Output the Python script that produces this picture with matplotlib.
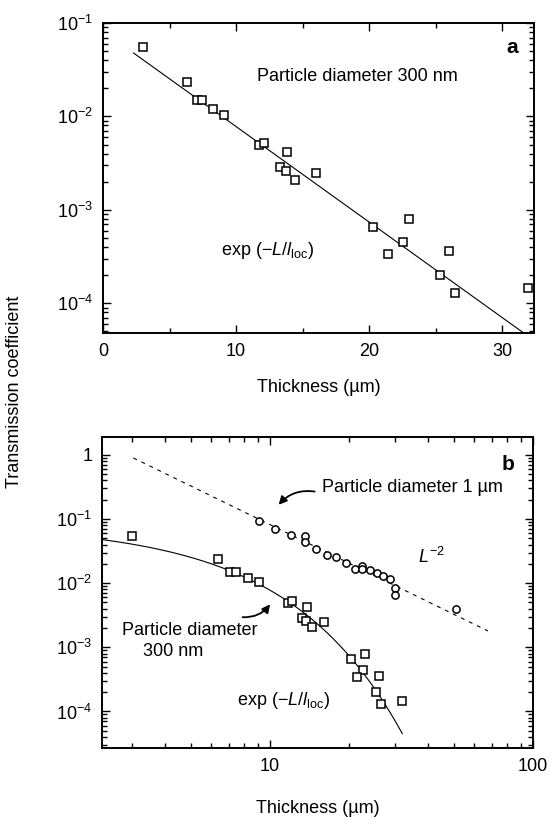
import matplotlib
matplotlib.use("Agg")
import matplotlib.pyplot as plt
import numpy as np
from matplotlib.ticker import FixedLocator, LogLocator, NullFormatter, FuncFormatter

plt.rcParams['font.family'] = ['Liberation Sans', 'DejaVu Sans']
plt.rcParams['mathtext.fontset'] = 'custom'
plt.rcParams['mathtext.rm'] = 'Liberation Sans'
plt.rcParams['mathtext.it'] = 'Liberation Sans:italic'
plt.rcParams['mathtext.bf'] = 'Liberation Sans:bold'

# particle diameter 300 nm (squares), thickness in um
thick_300 = [3.0, 6.35, 7.05, 7.45, 8.28, 9.07, 11.7, 12.1, 13.8, 13.3, 13.75,
             14.45, 16.05, 20.3, 23.0, 22.55, 21.45, 26.05, 25.35, 26.5, 31.95]
trans_300 = [0.055, 0.0235, 0.015, 0.015, 0.012, 0.0103, 0.0049, 0.0052, 0.0042,
             0.0029, 0.0026, 0.0021, 0.0025, 0.00066, 0.0008, 0.00045, 0.00034,
             0.00036, 0.0002, 0.00013, 0.000145]

# particle diameter 1 um (circles)
thick_1um = [9.06, 10.5, 12.0, 13.6, 13.6, 15.0, 16.5, 17.9, 19.5, 21.0, 22.5,
             22.5, 24.0, 25.5, 27.0, 28.6, 30.0, 30.0, 51.0]
trans_1um = [0.092, 0.071, 0.056, 0.054, 0.0436, 0.034, 0.027, 0.0252, 0.0204,
             0.0165, 0.0183, 0.0165, 0.0161, 0.0143, 0.0127, 0.0117, 0.0083,
             0.0065, 0.0039]

# fits: exp(-L/l_loc) and L^-2
amp_exp, l_loc = 0.082, 4.25
amp_pow = 8.2


def sci_label(v, pos):
    if abs(v - 1) < 1e-9:
        return '1'
    return r'$10^{%d}$' % int(round(np.log10(v)))


fig = plt.figure(figsize=(5.51, 8.17), dpi=100)
ax_a = fig.add_axes([0.187, 0.5924, 0.782, 0.3794])
ax_b = fig.add_axes([0.185, 0.0845, 0.782, 0.3807])

FS = 13
sq = dict(marker='s', ms=5.2, mfc='white', mec='black', mew=1.1, ls='none')

# ---- panel a
ax_a.plot(thick_300, trans_300, **sq, zorder=3)
La = np.linspace(2.3, 33, 100)
ax_a.plot(La, amp_exp * np.exp(-La / l_loc), color='black', lw=0.8)
ax_a.set_yscale('log')
ax_a.set_xlim(0, 32.4)
ax_a.set_ylim(4.8e-5, 0.1)
ax_a.xaxis.set_major_locator(FixedLocator([0, 10, 20, 30]))
ax_a.xaxis.set_minor_locator(FixedLocator([5, 15, 25]))
ax_a.yaxis.set_major_formatter(FuncFormatter(sci_label))
ax_a.set_xlabel('Thickness (µm)', fontsize=FS, labelpad=14)
ax_a.text(0.962, 0.92, 'a', transform=ax_a.transAxes, ha='right', va='center',
          fontsize=15, fontweight='bold')
ax_a.text(0.357, 0.826, 'Particle diameter 300 nm', transform=ax_a.transAxes,
          ha='left', va='center', fontsize=FS)
ax_a.text(0.274, 0.265, r'exp ($-L/l_{\rm loc}$)', transform=ax_a.transAxes,
          ha='left', va='center', fontsize=FS)

# ---- panel b
Lb = np.linspace(2.3, 31.9, 200)
ax_b.plot(Lb, amp_exp * np.exp(-Lb / l_loc), color='black', lw=0.8)
Lp = np.array([3.03, 67.5])
ax_b.plot(Lp, amp_pow / Lp ** 2, color='black', lw=0.8, ls=(0, (3.5, 4.5)))
ax_b.plot(thick_300, trans_300, **sq, zorder=3)
ax_b.plot(thick_1um, trans_1um, marker='o', ms=5.2, mfc='white', mec='black',
          mew=1.1, ls='none', zorder=3)
ax_b.set_xscale('log')
ax_b.set_yscale('log')
ax_b.set_xlim(2.3, 100)
ax_b.set_ylim(2.7e-5, 1.9)
ax_b.xaxis.set_major_formatter(FuncFormatter(lambda v, p: '%d' % v))
ax_b.xaxis.set_minor_formatter(NullFormatter())
ax_b.yaxis.set_major_locator(LogLocator(base=10, numticks=10))
ax_b.yaxis.set_major_formatter(FuncFormatter(sci_label))
ax_b.set_xlabel('Thickness (µm)', fontsize=FS, labelpad=18)
ax_b.text(0.958, 0.91, 'b', transform=ax_b.transAxes, ha='right', va='center',
          fontsize=15, fontweight='bold')
ax_b.text(0.51, 0.839, 'Particle diameter 1 µm', transform=ax_b.transAxes,
          ha='left', va='center', fontsize=FS)
ax_b.annotate('', xy=(0.406, 0.775), xytext=(0.50, 0.823),
              xycoords='axes fraction', textcoords='axes fraction',
              arrowprops=dict(arrowstyle='-|>', color='black', lw=1.3,
                              mutation_scale=12,
                              connectionstyle='arc3,rad=0.3'))
ax_b.text(0.733, 0.614, r'$L^{-2}$', transform=ax_b.transAxes,
          ha='left', va='center', fontsize=FS)
ax_b.text(0.046, 0.379, 'Particle diameter', transform=ax_b.transAxes,
          ha='left', va='center', fontsize=FS)
ax_b.text(0.095, 0.309, '300 nm', transform=ax_b.transAxes,
          ha='left', va='center', fontsize=FS)
ax_b.annotate('', xy=(0.394, 0.469), xytext=(0.32, 0.421),
              xycoords='axes fraction', textcoords='axes fraction',
              arrowprops=dict(arrowstyle='-|>', color='black', lw=1.3,
                              mutation_scale=12,
                              connectionstyle='arc3,rad=0.3'))
ax_b.text(0.313, 0.154, r'exp ($-L/l_{\rm loc}$)', transform=ax_b.transAxes,
          ha='left', va='center', fontsize=FS)

for ax in (ax_a, ax_b):
    for s in ax.spines.values():
        s.set_linewidth(1.4)
    ax.tick_params(which='both', direction='in', top=True, right=True,
                   labelsize=FS, width=1.0)
    ax.tick_params(which='major', length=6, pad=7)
    ax.tick_params(which='minor', length=3.5)

fig.text(0.027, 0.52, 'Transmission coefficient', rotation=90,
         ha='center', va='center', fontsize=FS)

fig.savefig('out.png', dpi=100)
